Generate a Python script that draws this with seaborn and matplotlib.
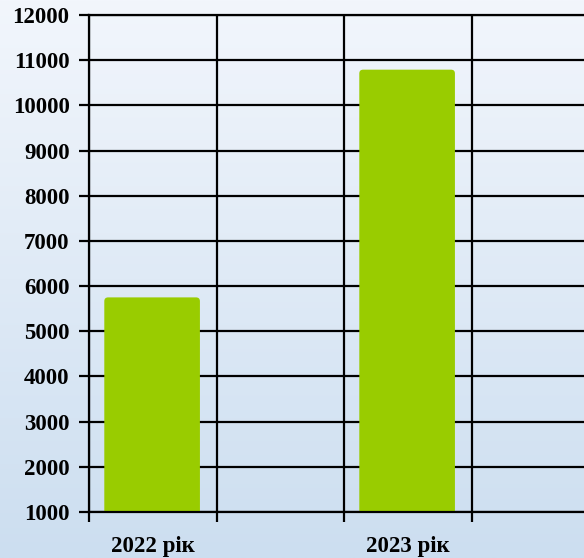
import matplotlib.pyplot as plt
import numpy as np
import pandas as pd
import seaborn as sns
from matplotlib.colors import LinearSegmentedColormap
from matplotlib.patches import FancyBboxPatch

# chart data
years = ["2022 рік", "2023 рік"]
values = [5750, 10790]
# category slots on the x axis (empty slots give the extra grid columns)
slots = ["2022 рік", "", "2023 рік", " "]
y_ticks = list(range(1000, 13000, 1000))


def main() -> None:
    sns.set_theme(style="white")
    plt.rcParams["font.family"] = ["Liberation Serif", "DejaVu Serif"]

    fig = plt.figure(figsize=(5.84, 5.58), dpi=100)

    # gradient background
    bg = fig.add_axes([0, 0, 1, 1], zorder=0)
    grad = np.linspace(0, 1, 256).reshape(-1, 1)
    cmap = LinearSegmentedColormap.from_list("bg", ["#F2F6FC", "#CCDEF0"])
    bg.imshow(grad, aspect="auto", cmap=cmap, extent=[0, 1, 0, 1], origin="upper")
    bg.axis("off")

    ax = fig.add_axes([89 / 584, 46 / 558, 510 / 584, 497 / 558], zorder=1)
    ax.patch.set_alpha(0)

    df = pd.DataFrame({"year": years, "value": values})
    sns.barplot(
        data=df, x="year", y="value", order=slots, color="#99CC00",
        width=0.75, saturation=1, ax=ax,
    )

    ax.set_xlim(-0.5, 3.5)
    ax.set_ylim(1000, 12000)

    # rounded bar tops
    aspect = (127.5 / 1.0) / (497 / 11000)
    for p in list(ax.patches):
        x, y = p.get_x(), p.get_y()
        w, h = p.get_width(), p.get_height()
        p.remove()
        ax.add_patch(FancyBboxPatch(
            (x - 0.005, y), w, h, boxstyle="round,pad=0,rounding_size=0.03",
            mutation_aspect=aspect, facecolor="#99CC00", edgecolor="none", zorder=2,
        ))

    ax.set_yticks(y_ticks)
    ax.set_xticks(range(len(slots)))
    ax.set_xticklabels(slots)
    ax.set_xticks(np.arange(-0.5, 4.0, 1.0), minor=True)

    ax.tick_params(axis="x", which="major", length=0, pad=17)
    ax.tick_params(axis="x", which="minor", length=7, width=1.6, color="black", bottom=True)
    ax.tick_params(axis="y", which="major", length=7, width=1.6, color="black", left=True, pad=7)
    for lab in ax.get_xticklabels() + ax.get_yticklabels():
        lab.set_fontsize(16.5)
        lab.set_fontweight("bold")
        lab.set_color("black")

    ax.set_axisbelow(True)
    ax.grid(True, axis="y", which="major", color="black", linewidth=1.6)
    ax.grid(True, axis="x", which="minor", color="black", linewidth=1.6)
    ax.grid(False, axis="x", which="major")

    for side in ["left", "top", "bottom", "right"]:
        ax.spines[side].set_color("black")
        ax.spines[side].set_linewidth(1.6)

    ax.set_xlabel("")
    ax.set_ylabel("")

    fig.savefig("out.png", dpi=100)
    plt.close(fig)


if __name__ == "__main__":
    main()
